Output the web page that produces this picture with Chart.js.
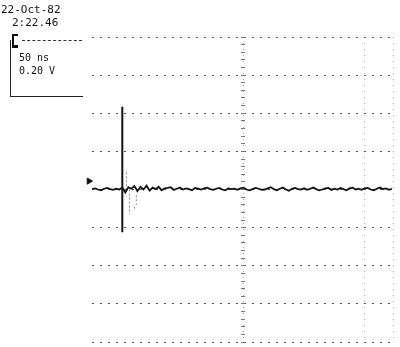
<!DOCTYPE html>
<html>
<head>
<meta charset="utf-8">
<script src="https://cdn.jsdelivr.net/npm/chart.js@4.4.1/dist/chart.umd.min.js"></script>
<style>
  html, body { margin: 0; padding: 0; background: #fff; }
  #wrap { position: relative; width: 400px; height: 347px; overflow: hidden; }
  #scope { position: absolute; left: 0; top: 0; }
  .lbl { position: absolute; font-family: "DejaVu Sans Mono", monospace; font-size: 11px; color: #111; white-space: nowrap; line-height: 1; }
  #box { position: absolute; left: 10px; top: 40px; width: 72px; height: 56px; border-left: 1.5px solid #222; border-bottom: 1.5px solid #222; }
  #boxTop { position: absolute; left: 22px; top: 40px; width: 60px; border-top: 1.5px dashed #333; }
  #trig { position: absolute; left: 12px; top: 34px; width: 4px; height: 9px; border: 2px solid #111; border-right: none; border-bottom-width: 3px; }
</style>
</head>
<body>
<div id="wrap">
  <canvas id="scope" width="400" height="347"></canvas>
  <div class="lbl" style="left:1px;top:4px;">22-Oct-82</div>
  <div class="lbl" style="left:12px;top:17px;">2:22.46</div>
  <div id="trig"></div>
  <div id="boxTop"></div>
  <div id="box"></div>
  <div class="lbl" style="left:19px;top:53px;font-size:10px;">50 ns</div>
  <div class="lbl" style="left:19px;top:66px;font-size:10px;">0.20 V</div>
</div>
<script>
// screen divisions: 8 x 8, centre at 0
const xMin = -4
const xMax = 4
const yMin = -4
const yMax = 4

// vertical graticule lines that show on the photo
const vertLines = [0, 3.2, 3.95]

// sampled trace (divisions), starts at left edge
const traceStart = -4
const traceStep = 0.08
const traceY = [
  0.01, 0.03, 0.00, -0.02, 0.02, 0.04, 0.01, -0.01, 0.02, 0.00,
  0.05, -0.08, 0.06, 0.02, 0.09, -0.04, 0.07, 0.00, 0.10, -0.03,
  0.05, 0.01, 0.07, -0.02, 0.03, 0.04, 0.06, -0.01, 0.02, 0.05,
  0.00, 0.03, 0.01, -0.02, 0.04, 0.02, 0.00, 0.03, 0.05, 0.01,
  -0.01, 0.02, 0.04, 0.00, -0.02, 0.03, 0.01, 0.02, -0.01, 0.03,
  0.05, 0.00, -0.02, 0.01, 0.04, 0.02, -0.01, 0.00, 0.03, 0.06,
  0.01, -0.02, 0.02, 0.05, 0.00, -0.03, 0.02, 0.04, 0.01, 0.00,
  0.03, -0.01, 0.02, 0.05, 0.01, -0.02, 0.00, 0.03, 0.04, -0.01,
  0.02, 0.00, 0.04, 0.01, -0.02, 0.03, 0.05, 0.00, 0.02, -0.01,
  0.03, 0.04, 0.00, -0.02, 0.02, 0.05, 0.01, 0.03, -0.01, 0.02
]

// the trigger spike
const spikeX = [-3.2, -3.2, -3.2, -3.2]
const spikeY = [0, 2.17, -1.12, 0]

// faint ringing just after the spike
const ringX = [-3.09, -3.09, null, -3.01, -3.01, null, -2.88, -2.88, null, -2.83, -2.83]
const ringY = [0.45, 0.0, null, 0.0, -0.65, null, -0.45, -0.52, null, -0.15, -0.4]

// ground marker on the left
const markerX = [-4.08]
const markerY = [0.22]

const toPoints = (xs, ys) => xs.map((x, i) => ({ x: x, y: ys[i] }))

new Chart(document.getElementById("scope"), {
  type: "scatter",
  data: {
    datasets: [
      {
        data: traceY.map((y, i) => ({ x: traceStart + i * traceStep, y: y })),
        showLine: true,
        borderColor: "#111",
        borderWidth: 1.8,
        pointRadius: 0,
      },
      {
        data: toPoints(spikeX, spikeY),
        showLine: true,
        borderColor: "#111",
        borderWidth: 2,
        pointRadius: 0,
      },
      {
        data: toPoints(ringX, ringY),
        showLine: true,
        spanGaps: false,
        borderColor: "#888",
        borderWidth: 1,
        borderDash: [2, 2],
        pointRadius: 0,
      },
      {
        data: toPoints(markerX, markerY),
        pointStyle: "triangle",
        rotation: 90,
        pointRadius: 3.5,
        backgroundColor: "#111",
        borderColor: "#111",
        clip: false,
      },
    ],
  },
  options: {
    responsive: false,
    animation: false,
    layout: { padding: { left: 92, top: 37, right: 0, bottom: 4 } },
    plugins: { legend: { display: false }, tooltip: { enabled: false } },
    scales: {
      x: {
        type: "linear",
        min: xMin,
        max: xMax,
        ticks: { display: false },
        border: { display: false, dash: [1, 5] },
        grid: {
          drawTicks: false,
          color: ctx => (ctx.tick && ctx.tick.value === 0 ? "#999" : "#aaa"),
        },
        afterBuildTicks: scale => {
          scale.ticks = vertLines.map(v => ({ value: v }))
        },
      },
      y: {
        min: yMin,
        max: yMax,
        ticks: { display: false, stepSize: 1 },
        border: { display: false, dash: [2, 6] },
        grid: { drawTicks: false, color: "#555" },
      },
      // small tick marks along the centre line
      yc: {
        position: { x: 0.05 },
        min: yMin,
        max: yMax,
        ticks: { display: false, stepSize: 0.2 },
        border: { display: false },
        grid: { drawOnChartArea: false, drawTicks: true, tickLength: 4, tickWidth: 1, tickColor: "#777" },
      },
    },
  },
})
</script>
</body>
</html>
